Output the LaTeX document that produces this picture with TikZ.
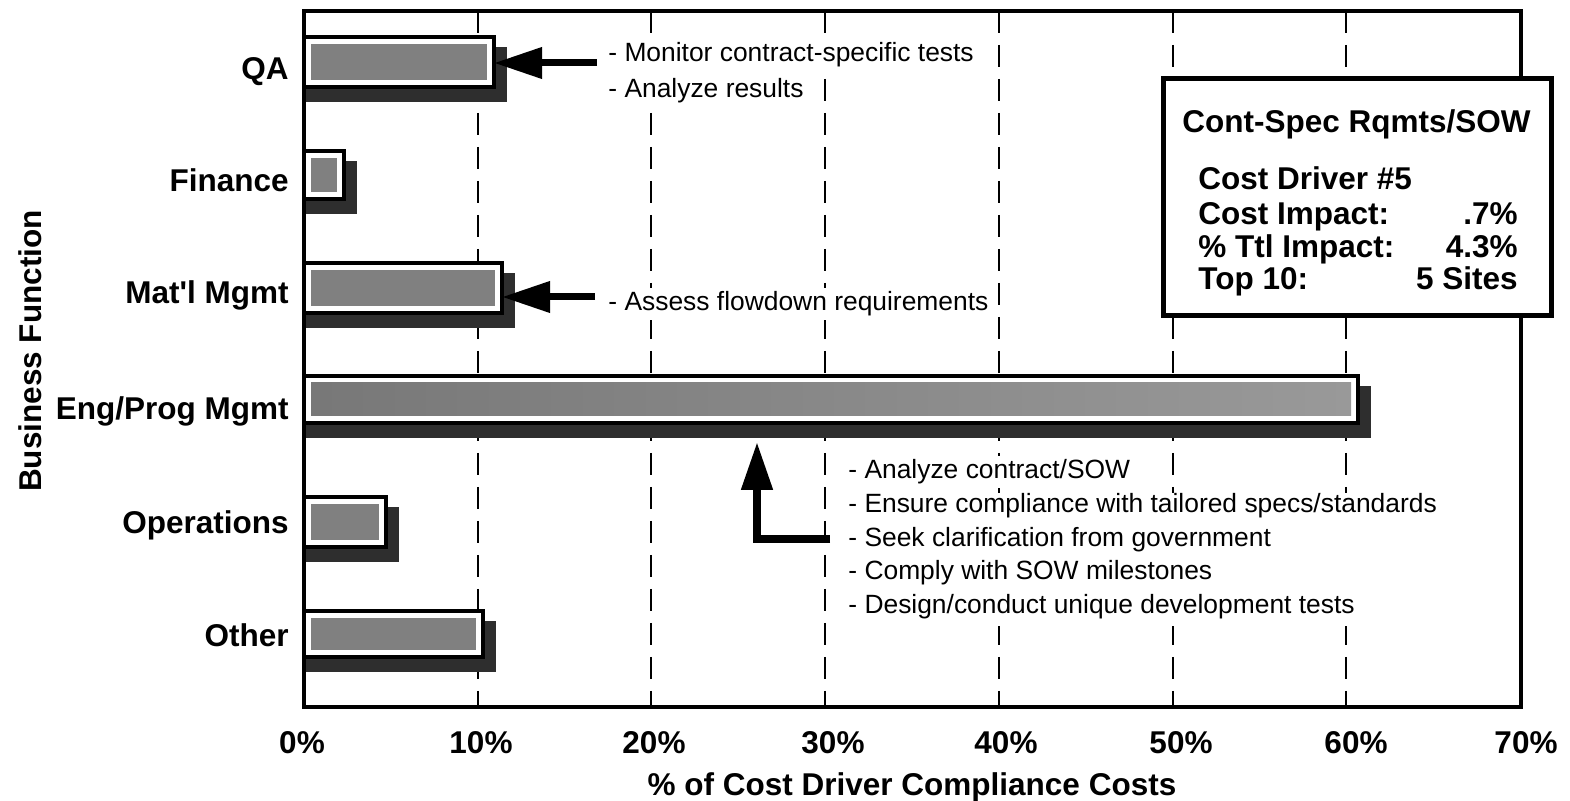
\documentclass[tikz,border=0pt]{standalone}
\usepackage{fontspec}
\setmainfont{Liberation Sans}
\usetikzlibrary{arrows.meta,calc}

\newcommand\lblfont{\fontsize{15.75}{18}\selectfont\bfseries}
\newcommand\notefont{\fontsize{13.2}{15}\selectfont}

\tikzset{
  barshadow/.style={fill=black!82},
  barfront/.style={rectangle, draw=black, fill=white, line width=2.2pt, inner sep=0pt, outer sep=0pt},
  barcore/.style={fill=black!50},
  gridline/.style={line width=1.2pt, dash pattern=on 11pt off 6pt},
  plotframe/.style={line width=2.3pt},
  legendbox/.style={rectangle, draw=black, fill=white, line width=2.5pt, inner sep=0pt},
  lbl/.style={inner sep=0pt, font=\lblfont},
  note/.style={anchor=base west, font=\notefont, inner xsep=2pt, inner ysep=2pt},
  blanked/.style={note, fill=white},
  callout/.style={line width=3.5pt, line join=miter, -{Triangle[length=24pt,width=15pt]}},
}

% one bar: name, top, right end, bottom (all in pixel units)
\newcommand\costbar[4]{%
  \fill[barshadow] (304,#2+10) rectangle (#3+13,#4+15);
  \node[barfront, minimum width={(#3-304)*0.5pt}, minimum height={(#4-#2)*0.5pt}]
    (#1) at ({(304+#3)/2},{(#2+#4)/2}) {};
  \fill[barcore] ($(#1.north west)+(7,7)$) rectangle ($(#1.south east)+(-7,-7)$);
}

\begin{document}
\begin{tikzpicture}[x=0.5pt,y=-0.5pt]
\path[use as bounding box] (0,0) rectangle (1570,801);

% dashed grid at every 10%
\foreach \gx in {478,651,825,999,1173,1346}
  \draw[gridline] (\gx,11) -- (\gx,707);

% bars
\costbar{qa}{37}{494}{87}
\costbar{fin}{151}{344}{199}
\costbar{mat}{263}{502}{313}
\costbar{eng}{376}{1358}{423}
\shade[left color=black!53, right color=black!40]
  ($(eng.north west)+(7,7)$) rectangle ($(eng.south east)+(-7,-7)$);
\costbar{ops}{497}{386}{547}
\costbar{oth}{611}{483}{657}

% plot frame
\draw[plotframe] (304,11) rectangle (1521,707);

% summary box
\node[legendbox, minimum width={(1551-1163)*0.5pt}, minimum height={(316-79)*0.5pt}]
  (legend) at (1357,197.5) {};
\node[lbl, anchor=base west] (lgtitle) at (1182,133) {Cont-Spec Rqmts/SOW};
\node[lbl, anchor=base west] (lgdrv) at (1198,190) {Cost Driver \#5};
\node[lbl, anchor=base west] (lgci) at (1198,225) {Cost Impact:};
\node[lbl, anchor=base east] (lgciv) at (1518,225) {.7\%};
\node[lbl, anchor=base west] (lgti) at (1198,258) {\% Ttl Impact:};
\node[lbl, anchor=base east] (lgtiv) at (1518,258) {4.3\%};
\node[lbl, anchor=base west] (lgtop) at (1198,290) {Top 10:};
\node[lbl, anchor=base east] (lgtopv) at (1518,290) {5 Sites};

% category labels
\node[lbl, anchor=base east] (lqa)  at (289,80)  {QA};
\node[lbl, anchor=base east] (lfin) at (289,192) {Finance};
\node[lbl, anchor=base east] (lmat) at (289,304) {Mat\textquotesingle l Mgmt};
\node[lbl, anchor=base east] (leng) at (289,420) {Eng/Prog Mgmt};
\node[lbl, anchor=base east] (lops) at (289,534) {Operations};
\node[lbl, anchor=base east] (loth) at (289,647) {Other};

% axis titles
\node[lbl, anchor=base, rotate=90] (ytitle) at (41,351) {Business Function};
\node[lbl, anchor=base] (xtitle) at (912,796) {\% of Cost Driver Compliance Costs};

% tick labels
\foreach \lx/\lt in {302/0,481/10,654/20,833/30,1006/40,1181/50,1356/60,1526/70}
  \node[lbl, anchor=base] at (\lx,754) {\lt\%};

% activity notes (white backing hides the grid behind them)
\node[blanked] (qa1) at (604,62) {- Monitor contract-specific tests};
\node[blanked] (qa2) at (604,98) {- Analyze results};
\node[blanked] (mat1) at (604,311) {- Assess flowdown requirements};
\node[blanked] (eng1) at (844,479) {- Analyze contract/SOW};
\fill[white] (844,493) rectangle (1456,626);
\node[note] (eng2) at (844,513) {- Ensure compliance with tailored specs/standards};
\node[note] (eng3) at (844,547) {- Seek clarification from government};
\node[note] (eng4) at (844,580) {- Comply with SOW milestones};
\node[note] (eng5) at (844,614) {- Design/conduct unique development tests};

% callout arrows
\coordinate (qafrom) at (597,63);
\coordinate (matfrom) at (595,297);
\coordinate (engfrom) at (830,539);
\coordinate (engtip) at (757,442);
\draw[callout] (qafrom) -- (qafrom -| qa.east);
\draw[callout] (matfrom) -- (matfrom -| mat.east);
\draw[callout, line width=4pt] (engfrom) -| (engtip);
\end{tikzpicture}
\end{document}
